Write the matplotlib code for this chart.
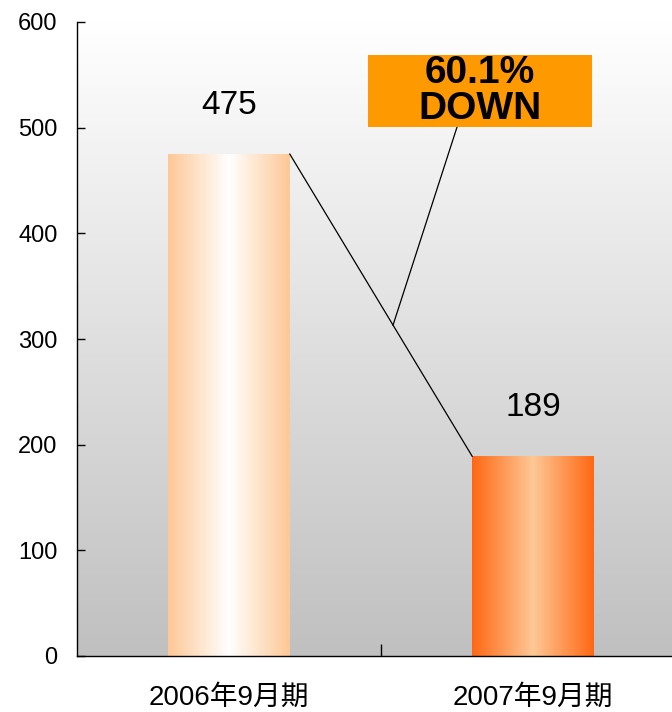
import matplotlib
matplotlib.use('Agg')
import matplotlib.pyplot as plt
from matplotlib.patches import Rectangle
import numpy as np

plt.rcParams['font.family'] = ['Liberation Sans', 'Noto Sans CJK JP', 'DejaVu Sans']

# data
periods = ['2006年9月期', '2007年9月期']
values = [475, 189]
change_label = '60.1%\nDOWN'
yticks = [0, 100, 200, 300, 400, 500, 600]

# colours (edge, centre) for each bar gradient
bar_colors = [((253, 200, 150), (255, 255, 255)),
              ((255, 104, 20), (253, 200, 150))]
bar_w = 0.4

fig = plt.figure(figsize=(6.72, 7.12), dpi=100)
ax = fig.add_axes([77/672, 56/712, 608/672, 634/712])
ax.set_xlim(-0.5, 1.5)
ax.set_ylim(0, 600)

# background: white at top, grey at bottom
grad = np.linspace(192, 255, 256)[:, None] / 255.0
bg = np.dstack([grad, grad, grad])
ax.imshow(bg, extent=[-0.5, 1.5, 0, 600], origin='lower', aspect='auto', zorder=0)

x = np.arange(len(values))
bars = ax.bar(x, values, width=bar_w, color='none', edgecolor='none', zorder=2)
u = np.linspace(0, 1, 200)
prof = 1 - np.abs(2 * u - 1)
for b, (edge, centre) in zip(bars, bar_colors):
    e = np.array(edge) / 255.0
    c = np.array(centre) / 255.0
    row = e[None, :] + (c - e)[None, :] * prof[:, None]
    img = row[None, :, :]
    x0 = b.get_x()
    im = ax.imshow(img, extent=[x0, x0 + b.get_width(), 0, b.get_height()],
                   aspect='auto', zorder=2)
    im.set_clip_path(b)

# value labels
for xi, v in zip(x, values):
    ax.text(xi, v + 46, str(v), ha='center', va='center', fontsize=24)

# connecting line between bar tops
x1, y1 = x[0] + bar_w / 2, values[0]
x2, y2 = x[1] - bar_w / 2, values[1]
ax.plot([x1, x2], [y1, y2], color='black', lw=0.9, zorder=3)

# callout box
t = 0.566
px, py = x1 + t * (x2 - x1), y1 + t * (y2 - y1)
box = Rectangle((0.457, 500.5), 0.737, 68.5, facecolor='#ff9900', edgecolor='none', zorder=4)
ax.add_patch(box)
ax.text(0.457 + 0.737 / 2, 500.5 + 68.5 / 2, change_label, ha='center', va='center',
        fontsize=28, fontweight='bold', linespacing=1.0, zorder=5)
ax.plot([0.75, px], [500.5, py], color='black', lw=0.9, zorder=3)

# axes styling
for s in ['top', 'right']:
    ax.spines[s].set_visible(False)
ax.spines['left'].set_linewidth(1)
ax.spines['bottom'].set_linewidth(1)
ax.set_yticks(yticks)
ax.tick_params(axis='y', direction='in', length=6, width=1, labelsize=17, pad=14)
ax.set_xticks(x)
ax.set_xticklabels(periods)
ax.tick_params(axis='x', which='major', length=0, labelsize=20, pad=21)
ax.set_xticks([0.5], minor=True)
ax.tick_params(axis='x', which='minor', direction='in', length=9, width=1)

fig.savefig('out.png', dpi=100)
